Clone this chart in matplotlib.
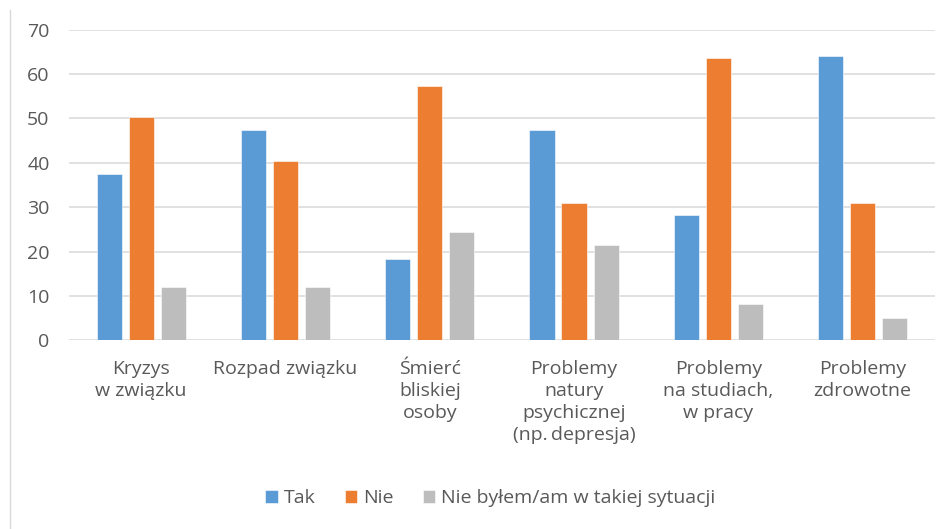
import numpy as np
import matplotlib
matplotlib.use("Agg")
import matplotlib.pyplot as plt
from matplotlib.lines import Line2D

plt.rcParams['font.family'] = ['Open Sans', 'DejaVu Sans']

# data
categories = ['Kryzys\nw związku', 'Rozpad związku', 'Śmierć\nbliskiej\nosoby',
              'Problemy\nnatury\npsychicznej\n(np.\u2009depresja)',
              'Problemy\nna studiach,\nw pracy', 'Problemy\nzdrowotne']
series_names = ['Tak', 'Nie', 'Nie byłem/am w takiej sytuacji']
tak = [37.4, 47.5, 18.3, 47.4, 28.2, 64.0]
nie = [50.4, 40.4, 57.2, 31.0, 63.5, 30.9]
nie_bylem = [12.1, 12.0, 24.5, 21.6, 8.1, 5.0]
colors = ['#5B9BD5', '#ED7D31', '#BDBDBD']
yticks = [0, 10, 20, 30, 40, 50, 60, 70]

text_col = '#595959'
grid_col = '#D9D9D9'

fig = plt.figure(figsize=(9.52, 5.29), dpi=100)
ax = fig.add_axes([0.0725, 0.3565, 0.9095, 0.5875])

x = np.arange(len(categories))
width = 0.175
step = 0.222
for i, (vals, name) in enumerate(zip([tak, nie, nie_bylem], series_names)):
    ax.bar(x + (i - 1) * step, vals, width, color=colors[i], label=name,
           edgecolor='white', linewidth=0.4, zorder=3)

ax.set_xlim(-0.5, len(categories) - 0.5)
ax.set_ylim(0, 70)
ax.set_yticks(yticks)
ax.set_xticks(x)
ax.set_xticklabels(categories, linespacing=1.28)
ax.tick_params(axis='both', length=0, labelsize=14, colors=text_col)
ax.tick_params(axis='y', pad=14)
ax.tick_params(axis='x', pad=14)
ax.grid(axis='y', color=grid_col, linewidth=1.1, zorder=0)
for s in ax.spines.values():
    s.set_visible(False)

leg = fig.legend(loc='center', bbox_to_anchor=(0.515, 0.058), ncol=3, frameon=False,
                 fontsize=14, handlelength=0.65, handleheight=0.65,
                 handletextpad=0.3, columnspacing=1.5)
for t in leg.get_texts():
    t.set_color(text_col)

# chart border remnant on the left
fig.add_artist(Line2D([10 / 952, 10 / 952], [0.0, 1 - 10 / 529],
                      transform=fig.transFigure, color='#D9D9D9', linewidth=1.0))

fig.savefig('out.png', dpi=100, facecolor='white')
